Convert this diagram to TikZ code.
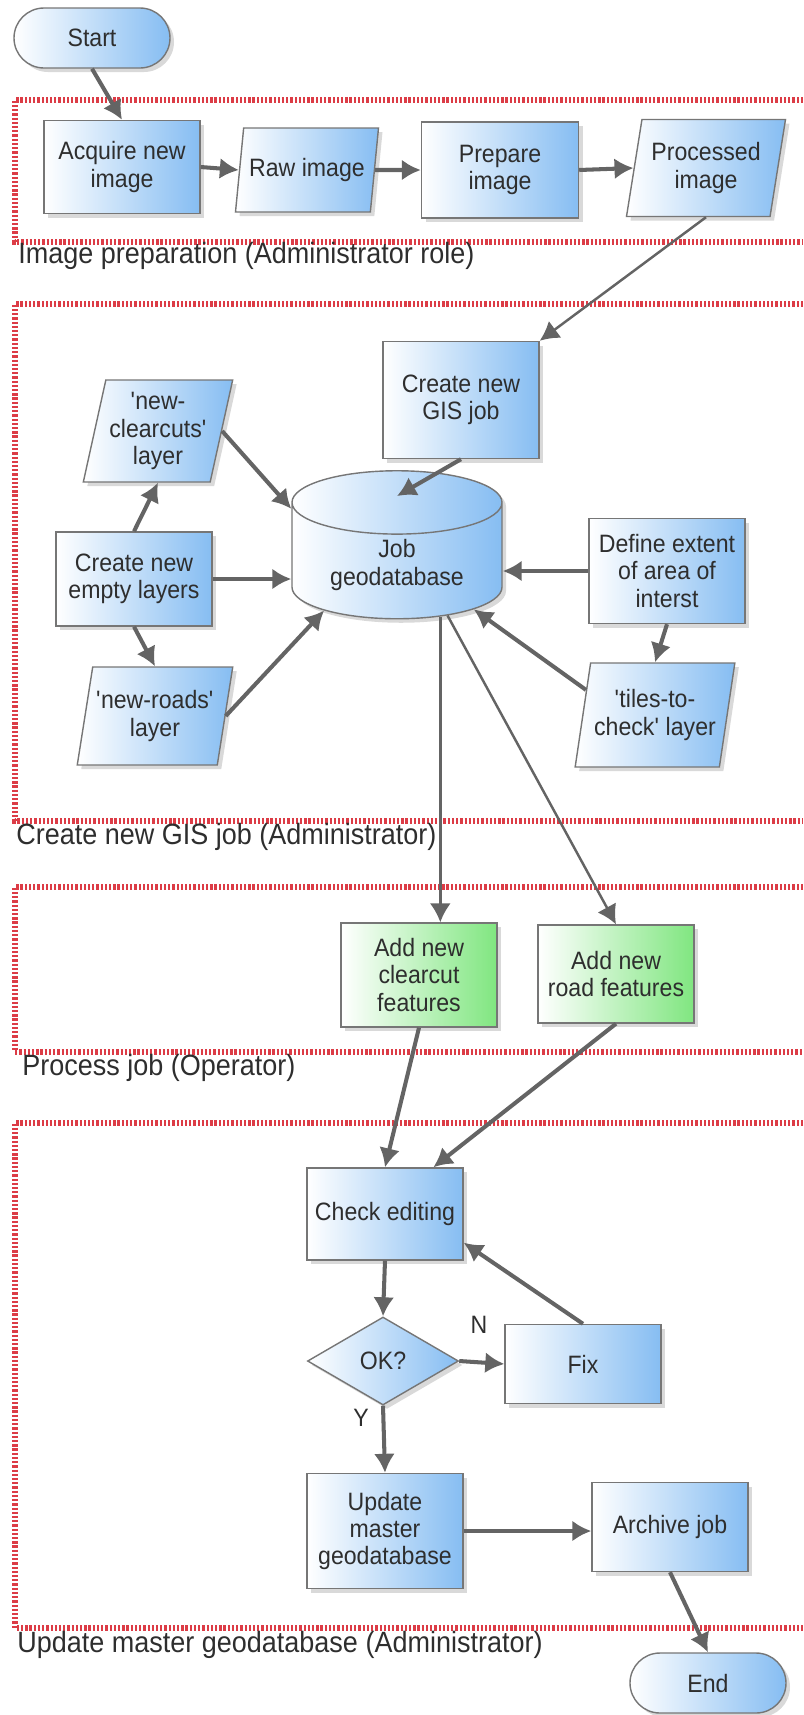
\documentclass[tikz,border=0pt]{standalone}
\usepackage{fontspec}
\setsansfont[FakeStretch=0.92]{Liberation Sans}
\usepackage{tikz}
\usetikzlibrary{shapes.geometric, arrows.meta, shadows, calc}
\definecolor{colorNode}{HTML}{86BDF2}
\definecolor{colorGreen}{HTML}{80E680}
\definecolor{colorBorder}{HTML}{767676}
\definecolor{colorArrow}{HTML}{646464}
\definecolor{colorLane}{HTML}{DC3C46}
\definecolor{colorText}{HTML}{2E2E2E}

\begin{document}
\begin{tikzpicture}[x=0.2mm, y=-0.2mm,
        s/.style={draw=colorBorder, line width=0.8pt, left color=white, right color=colorNode,
            drop shadow={opacity=0.3, shadow xshift=0.8mm, shadow yshift=-0.8mm},
            align=center, minimum width=31.2mm, inner sep=2pt, text=colorText,
            font=\sffamily\fontsize{14.3}{15.5}\selectfont},
        io/.style={s, trapezium, trapezium left angle=75, trapezium right angle=105, trapezium stretches body},
        term/.style={s, rounded corners=6mm, minimum height=12mm},
        dec/.style={s, diamond, minimum width=30.2mm, minimum height=17.6mm},
        cyl/.style={s, cylinder, shape border rotate=90, aspect=0.45, minimum width=42mm, minimum height=29.6mm},
        op/.style={s, right color=colorGreen},
        rel/.style={-{Latex[length=3.8mm,width=4.2mm]}, colorArrow, line width=2.3pt},
        lane/.style={colorLane, line width=3pt, dash pattern=on 1.3pt off 1.1pt},
        lbl/.style={anchor=west, inner sep=0pt, text=colorText, font=\sffamily\fontsize{16.7}{19}\selectfont},
        tag/.style={text=colorText, font=\sffamily\fontsize{14.3}{15.5}\selectfont}
    ]
        \useasboundingbox (0,0) rectangle (803,1715);

        \draw[lane] (803,100) -- (15,100) -- (15,242) -- (803,242);
        \draw[lane] (803,304) -- (15,304) -- (15,821) -- (803,821);
        \draw[lane] (803,887) -- (15,887) -- (15,1052) -- (803,1052);
        \draw[lane] (803,1123) -- (15,1123) -- (15,1628) -- (803,1628);
        \node[lbl] (lane1) at (18,256) {Image preparation (Administrator role)};
        \node[lbl] (lane2) at (16,837) {Create new GIS job (Administrator)};
        \node[lbl] (lane3) at (22,1068) {Process job (Operator)};
        \node[lbl] (lane4) at (17,1645) {Update master geodatabase (Administrator)};

        \node[term] (start) at (92,38) {Start};
        \node[s, minimum height=18.6mm] (acquire) at (122,167) {Acquire new\\image};
        \node[io, minimum width=28.6mm, minimum height=16.8mm] (raw) at (307,170) {Raw image};
        \node[s, minimum width=31.4mm, minimum height=19.2mm] (prepare) at (500,170) {Prepare\\image};
        \node[io, minimum width=31.8mm, minimum height=19.4mm] (processed) at (706,168) {Processed\\image};

        \node[s, minimum height=23.4mm] (gisjob) at (461,400) {Create new\\GIS job};
        \node[io, minimum width=28.6mm, minimum height=20.4mm] (clearcuts) at (158,431) {\textquotesingle new-\\clearcuts\textquotesingle\\layer};
        \node[s, minimum height=18.8mm] (empty) at (134,579) {Create new\\empty layers};
        \node[io, minimum width=28.2mm, minimum height=19.6mm] (roads) at (155,716) {\textquotesingle new-roads\textquotesingle\\layer};
        \node[cyl] (jobdb) at (397,565) {Job\\geodatabase};
        \node[s, minimum height=21mm] (define) at (667,571) {Define extent\\of area of\\interst};
        \node[io, minimum width=28.6mm, minimum height=20.8mm] (tiles) at (655,715) {\textquotesingle tiles-to-\\check\textquotesingle{} layer};

        \node[op, minimum height=20.8mm] (cfeat) at (419,975) {Add new\\clearcut\\features};
        \node[op, minimum height=19.6mm] (rfeat) at (616,974) {Add new\\road features};

        \node[s, minimum height=18.4mm] (check) at (385,1214) {Check editing};
        \node[dec] (ok) at (383,1361) {OK?};
        \node[s, minimum height=15.8mm] (fix) at (583,1364) {Fix};
        \node[s, minimum height=23mm] (update) at (385,1531) {Update\\master\\geodatabase};
        \node[s, minimum height=17.8mm] (archive) at (670,1527) {Archive job};
        \node[term] (finish) at (708,1683) {End};
        \node[tag] (tagN) at (479,1325) {N};
        \node[tag] (tagY) at (361,1418) {Y};

        \draw[rel] (start.south) -- (acquire.north);
        \draw[rel] (acquire.east) -- (raw.west);
        \draw[rel] (raw.east) -- (prepare.west);
        \draw[rel] (prepare.east) -- (processed.west);
        \draw[rel, line width=1.4pt] (processed.south) -- (gisjob.north east);
        \draw[rel] (gisjob.south) -- ($(jobdb.north)+(0,26)$);
        \draw[rel] (clearcuts.east) -- (jobdb.152);
        \draw[rel] (empty.north) -- (clearcuts.south);
        \draw[rel] (empty.east) -- (empty.east -| jobdb.west);
        \draw[rel] (empty.south) -- (roads.north);
        \draw[rel] (roads.east) -- (jobdb.212);
        \draw[rel] (define.west) -- (define.west -| jobdb.east);
        \draw[rel] (tiles.160) -- (jobdb.-30);
        \draw[rel] (define.south) -- (tiles.north);
        \draw[rel, line width=1.4pt] (jobdb.-50) -- (jobdb.-50 |- cfeat.north);
        \draw[rel, line width=1.4pt] (jobdb.-45) -- (rfeat.north);
        \draw[rel] (cfeat.south) -- (check.north);
        \draw[rel] (rfeat.south) -- (check.44);
        \draw[rel] (check.south) -- (ok.north);
        \draw[rel] (ok.east) -- (fix.west);
        \draw[rel] (fix.north) -- (check.-20);
        \draw[rel] (ok.south) -- (update.north);
        \draw[rel] (update.east) -- (update.east -| archive.west);
        \draw[rel] (archive.south) -- (finish.north);
    \end{tikzpicture}
\end{document}
